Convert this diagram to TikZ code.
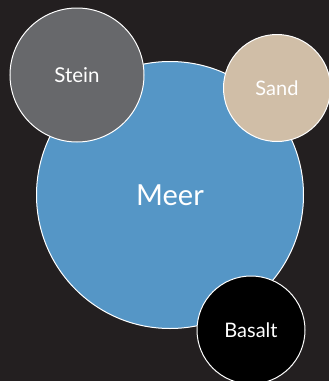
\documentclass[tikz,border=0pt]{standalone}
\usepackage{fontspec}
\setmainfont{Lato}
\definecolor{bgdark}{HTML}{231F20}
\definecolor{meerblue}{HTML}{5596C6}
\definecolor{steingray}{HTML}{67686B}
\definecolor{sandtan}{HTML}{D0BEA7}
\tikzset{
  bubble/.style={circle, draw=white, line width=1pt, text=white, inner sep=0pt},
}
\begin{document}
\begin{tikzpicture}[x=1pt,y=-1pt]
  \fill[bgdark] (0,0) rectangle (329,381);
  \useasboundingbox (0,0) rectangle (329,381);
  \node[bubble, fill=meerblue, minimum size=267pt, font=\fontsize{29}{32}\selectfont] (meer) at (170,195) {Meer};
  \node[bubble, fill=steingray, minimum size=134pt, font=\fontsize{20.5}{23}\selectfont] (stein) at (77,75) {Stein};
  \node[bubble, fill=sandtan, minimum size=107pt, font=\fontsize{20}{23}\selectfont] (sand) at (277,88) {Sand};
  \node[bubble, fill=black, minimum size=108pt, font=\fontsize{20}{23}\selectfont] (basalt) at (251,330) {Basalt};
\end{tikzpicture}
\end{document}
